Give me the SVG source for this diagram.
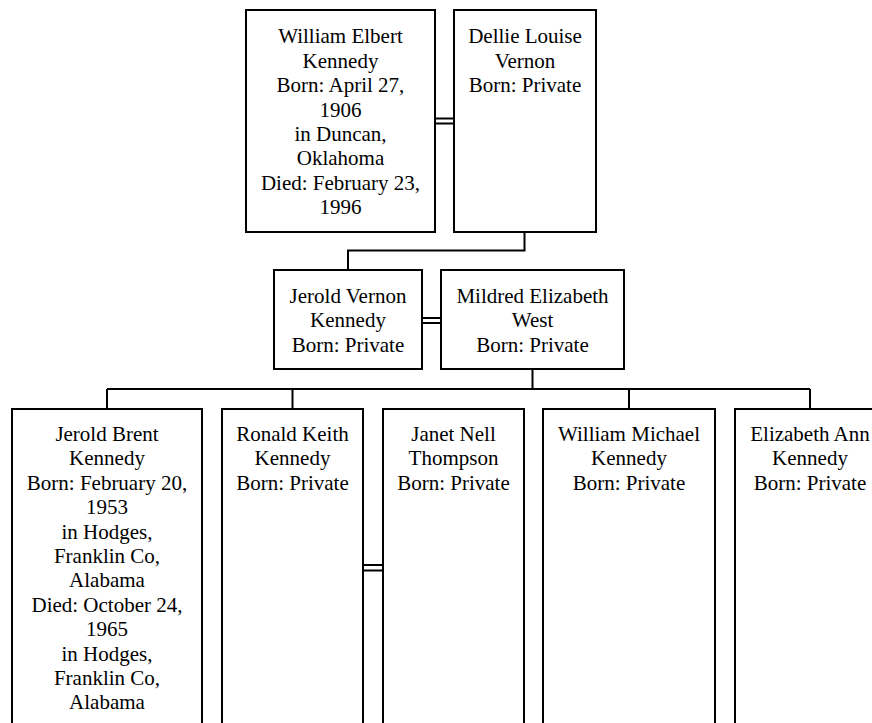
<svg xmlns="http://www.w3.org/2000/svg" width="872" height="723" viewBox="0 0 872 723">
<style>
.box{fill:#fff;stroke:#000;stroke-width:2}
.ln{fill:none;stroke:#000;stroke-width:2}
.t text{font-size:21px;fill:#000;text-anchor:middle}
</style>
<rect width="872" height="723" fill="#fff"/>
<g id="connectors">
<path class="ln" d="M435,118.5H454M435,123.5H454"/>
<path class="ln" d="M524.5,232V250.5H348V270"/>
<path class="ln" d="M422,318H441M422,323H441"/>
<path class="ln" d="M532.5,369V389M107,389H810M107,389V409M292.5,389V409M629,389V409M810,389V409"/>
<path class="ln" d="M363,565H383M363,570.5H383"/>
</g>
<g class="t" font-family="Liberation Serif, DejaVu Serif, serif">
<g id="william-elbert">
<rect class="box" x="246" y="10" width="189" height="222"/>
<text x="340.5" y="43.3">William Elbert</text>
<text x="340.5" y="67.7">Kennedy</text>
<text x="340.5" y="92.1">Born: April 27,</text>
<text x="340.5" y="116.5">1906</text>
<text x="340.5" y="140.9">in Duncan,</text>
<text x="340.5" y="165.3">Oklahoma</text>
<text x="340.5" y="189.7">Died: February 23,</text>
<text x="340.5" y="214.1">1996</text>
</g>
<g id="dellie-louise">
<rect class="box" x="454" y="10" width="142" height="222"/>
<text x="525" y="43.3">Dellie Louise</text>
<text x="525" y="67.7">Vernon</text>
<text x="525" y="92.1">Born: Private</text>
</g>
<g id="jerold-vernon">
<rect class="box" x="274" y="270" width="148" height="99"/>
<text x="348" y="302.7">Jerold Vernon</text>
<text x="348" y="327.1">Kennedy</text>
<text x="348" y="351.5">Born: Private</text>
</g>
<g id="mildred-elizabeth">
<rect class="box" x="441" y="270" width="183" height="99"/>
<text x="532.5" y="302.7">Mildred Elizabeth</text>
<text x="532.5" y="327.1">West</text>
<text x="532.5" y="351.5">Born: Private</text>
</g>
<g id="jerold-brent">
<rect class="box" x="12" y="409" width="190" height="330"/>
<text x="107" y="441">Jerold Brent</text>
<text x="107" y="465.4">Kennedy</text>
<text x="107" y="489.8">Born: February 20,</text>
<text x="107" y="514.2">1953</text>
<text x="107" y="538.6">in Hodges,</text>
<text x="107" y="563">Franklin Co,</text>
<text x="107" y="587.4">Alabama</text>
<text x="107" y="611.8">Died: October 24,</text>
<text x="107" y="636.2">1965</text>
<text x="107" y="660.6">in Hodges,</text>
<text x="107" y="685">Franklin Co,</text>
<text x="107" y="709.4">Alabama</text>
</g>
<g id="ronald-keith">
<rect class="box" x="222" y="409" width="141" height="330"/>
<text x="292.5" y="441">Ronald Keith</text>
<text x="292.5" y="465.4">Kennedy</text>
<text x="292.5" y="489.8">Born: Private</text>
</g>
<g id="janet-nell">
<rect class="box" x="383" y="409" width="141" height="330"/>
<text x="453.5" y="441">Janet Nell</text>
<text x="453.5" y="465.4">Thompson</text>
<text x="453.5" y="489.8">Born: Private</text>
</g>
<g id="william-michael">
<rect class="box" x="543" y="409" width="172" height="330"/>
<text x="629" y="441">William Michael</text>
<text x="629" y="465.4">Kennedy</text>
<text x="629" y="489.8">Born: Private</text>
</g>
<g id="elizabeth-ann">
<rect class="box" x="735" y="409" width="150" height="330"/>
<text x="810" y="441">Elizabeth Ann</text>
<text x="810" y="465.4">Kennedy</text>
<text x="810" y="489.8">Born: Private</text>
</g>
</g>
</svg>
